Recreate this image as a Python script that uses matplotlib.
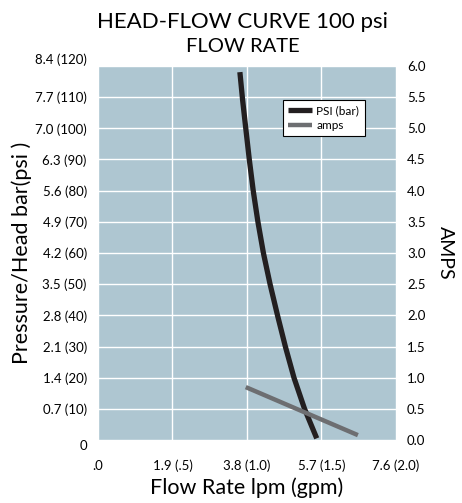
import matplotlib.pyplot as plt

# head-flow curve, pressure in bar (left axis)
flujo_psi = [3.62, 3.69, 3.77, 3.86, 3.96, 4.08, 4.22, 4.39, 4.58, 4.78, 5.00, 5.27, 5.58]
presion_bar = [8.26, 7.63, 7.00, 6.30, 5.60, 4.90, 4.20, 3.50, 2.80, 2.10, 1.40, 0.70, 0.04]

# amps line (right axis)
flujo_amps = [3.77, 6.63]
amps = [0.85, 0.08]

ticks_x = [0, 1.9, 3.8, 5.7, 7.6]
labels_x = [".0", "1.9 (.5)", "3.8 (1.0)", "5.7 (1.5)", "7.6 (2.0)"]
ticks_bar = [0, 0.7, 1.4, 2.1, 2.8, 3.5, 4.2, 4.9, 5.6, 6.3, 7.0, 7.7, 8.4]
labels_bar = ["0", "0.7 (10)", "1.4 (20)", "2.1 (30)", "2.8 (40)", "3.5 (50)",
              "4.2 (60)", "4.9 (70)", "5.6 (80)", "6.3 (90)", "7.0 (100)",
              "7.7 (110)", "8.4 (120)"]
ticks_amps = [0.0, 0.5, 1.0, 1.5, 2.0, 2.5, 3.0, 3.5, 4.0, 4.5, 5.0, 5.5, 6.0]

plt.rcParams['font.family'] = ['Lato', 'DejaVu Sans']
COR_FUNDO = '#aec6d1'

fig = plt.figure(figsize=(4.62, 5.03), dpi=100)
ax = fig.add_axes([0.212, 0.125, 0.645, 0.744])
ax.set_facecolor(COR_FUNDO)
ax.set_xlim(0, 7.6)
ax.set_ylim(0, 8.4)
ax.set_xticks(ticks_x)
ax.set_xticklabels(labels_x, fontsize=9.5)
ax.set_yticks(ticks_bar)
ax.set_yticklabels(labels_bar, fontsize=9.5)
ax.tick_params(length=0, pad=8)
ax.tick_params(axis='x', pad=14)
ax.grid(True, color='white', lw=1)
ax.set_axisbelow(True)
for s in ax.spines.values():
    s.set_visible(False)

lbl = ax.get_yticklabels()
lbl[0].set_va('top')
lbl[-1].set_va('bottom')

ax2 = ax.twinx()
ax2.set_ylim(0, 6)
ax2.set_yticks(ticks_amps)
ax2.set_yticklabels([f"{v:.1f}" for v in ticks_amps], fontsize=9.5)
ax2.tick_params(length=0, pad=8)
for s in ax2.spines.values():
    s.set_visible(False)

l1, = ax.plot(flujo_psi, presion_bar, color='#231f20', lw=3.8,
              solid_capstyle='butt', solid_joinstyle='round')
l2, = ax2.plot(flujo_amps, amps, color='#6d6e71', lw=3.2, solid_capstyle='butt')

leg = ax2.legend([l1, l2], ["PSI (bar)", "amps"], loc='upper left',
                 bbox_to_anchor=(0.62, 0.91), prop={'size': 8.5}, frameon=True,
                 fancybox=False, handlelength=2.0, borderpad=0.45,
                 labelspacing=0.35, handletextpad=0.4, borderaxespad=0)
leg.get_frame().set_edgecolor('black')
leg.get_frame().set_linewidth(0.8)
leg.get_frame().set_alpha(1)

ax.set_xlabel("Flow Rate lpm (gpm)", fontsize=15.5, labelpad=4)
ax.set_ylabel("Pressure/Head bar(psi )", fontsize=15.5, labelpad=2)
ax2.set_ylabel("AMPS", fontsize=14, rotation=270, labelpad=20)

fig.text(0.525, 0.957, "HEAD-FLOW CURVE 100 psi", ha='center', va='center', fontsize=16)
fig.text(0.525, 0.907, "FLOW RATE", ha='center', va='center', fontsize=14.5)

fig.savefig("out.png", dpi=100)
